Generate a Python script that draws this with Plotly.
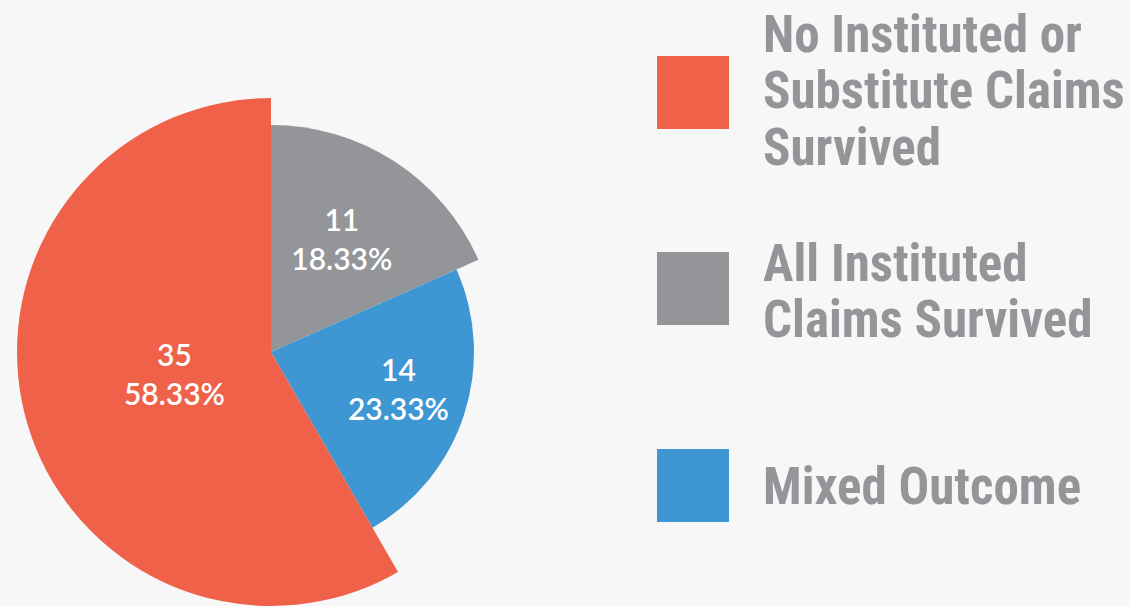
import plotly.graph_objects as go

# ---- data ----
categories = ["No Instituted or Substitute Claims Survived",
              "All Instituted Claims Survived",
              "Mixed Outcome"]
counts = [35, 11, 14]
legend_lines = [["No Instituted or", "Substitute Claims", "Survived"],
                ["All Instituted", "Claims Survived"],
                ["Mixed Outcome"]]

# ---- style ----
colors = ["#f0614a", "#939598", "#3e97d3"]
slice_radius = [259, 227, 203]      # px-like radial units (variable-radius pie)
label_radius = [100, 130, 134]
draw_order = [1, 2, 0]              # clockwise from 12 o'clock: gray, blue, red
BG = "#f7f7f7"
TXT = "#939598"
W, H = 1130, 606
CX, CY, RMAX = 271, 352, 254        # pie centre (px from left/top) and plot radius

total = sum(counts)
thetas, widths, rs, cols, texts, lr = [], [], [], [], [], []
start = 0.0
for i in draw_order:
    w = counts[i] / total * 360.0
    thetas.append(start + w / 2)
    widths.append(w)
    rs.append(slice_radius[i])
    cols.append(colors[i])
    texts.append(f"{counts[i]}<br>{counts[i] / total * 100:.2f}%")
    lr.append(label_radius[i])
    start += w

fig = go.Figure()
fig.add_trace(go.Barpolar(
    r=rs, theta=thetas, width=widths,
    marker=dict(color=cols, line=dict(width=0)),
    hoverinfo="skip", showlegend=False,
))
fig.add_trace(go.Scatterpolar(
    r=lr, theta=thetas, mode="text", text=texts,
    textfont=dict(color="white", size=30, family="Lato", weight=600),
    hoverinfo="skip", showlegend=False,
))

# manual legend
sq_tops = [56, 252, 449]
line_mid = [[34.5, 90.5, 147.5], [263, 319], [486]]
shapes, annots = [], []
for k in range(3):
    shapes.append(dict(type="rect", xref="paper", yref="paper",
                       x0=657 / W, x1=729 / W,
                       y0=1 - (sq_tops[k] + 73) / H, y1=1 - sq_tops[k] / H,
                       fillcolor=colors[k], line=dict(width=0), layer="above"))
    for line, ym in zip(legend_lines[k], line_mid[k]):
        annots.append(dict(xref="paper", yref="paper", x=761 / W, y=1 - ym / H,
                           xanchor="left", yanchor="middle", showarrow=False,
                           text=f"<b>{line}</b>",
                           font=dict(family="Roboto Condensed, Roboto", size=51, color=TXT)))

fig.update_layout(
    width=W, height=H,
    margin=dict(l=0, r=0, t=0, b=0),
    paper_bgcolor=BG, plot_bgcolor=BG,
    polar=dict(
        domain=dict(x=[(CX - RMAX) / W, (CX + RMAX) / W],
                    y=[1 - (CY + RMAX) / H, 1 - (CY - RMAX) / H]),
        bgcolor="rgba(0,0,0,0)",
        bargap=0,
        angularaxis=dict(visible=False, direction="clockwise", rotation=90),
        radialaxis=dict(visible=False, range=[0, RMAX]),
    ),
    shapes=shapes, annotations=annots,
)
fig.write_html("out.html")
